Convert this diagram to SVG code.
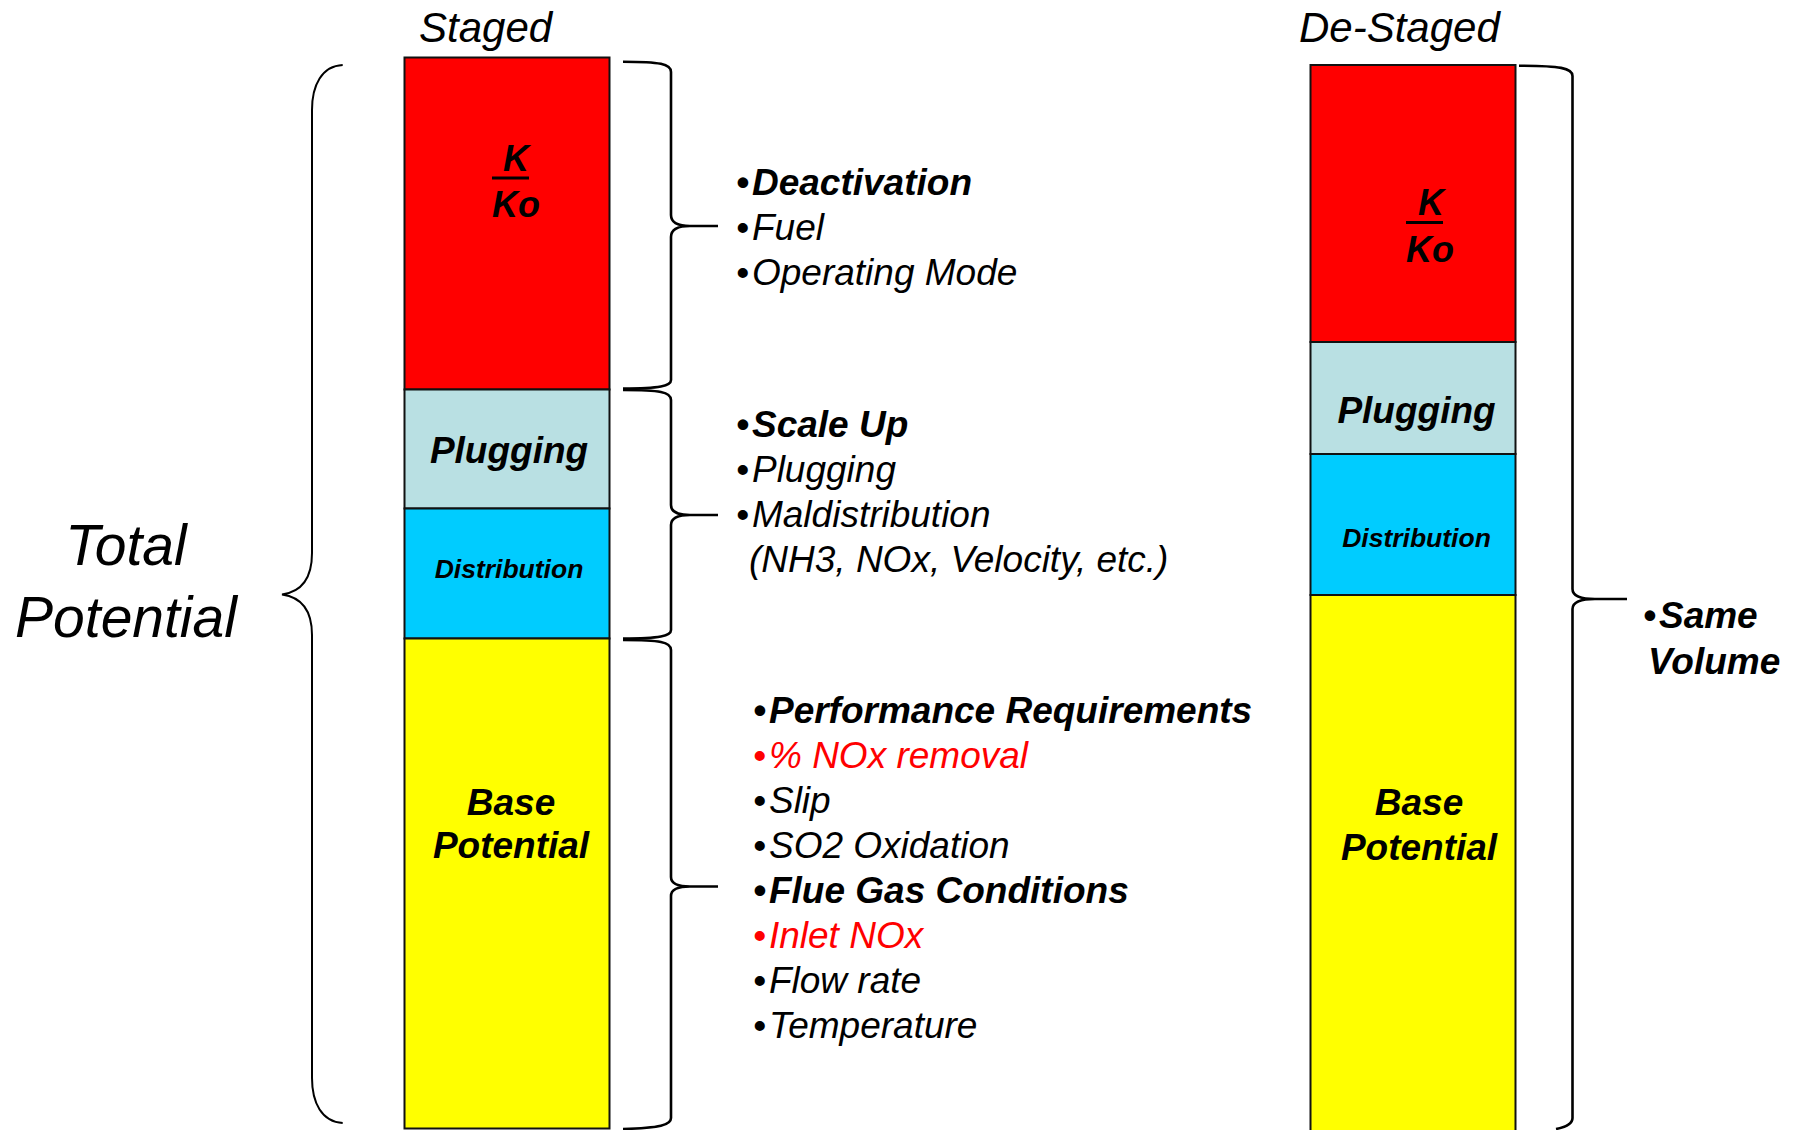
<svg xmlns="http://www.w3.org/2000/svg" width="1797" height="1130" viewBox="0 0 1797 1130">
<style>
text{font-family:"Liberation Sans",Arial,sans-serif;font-style:italic;fill:#000}
.b{font-weight:bold}
.hd{font-size:42px}
.big{font-size:57px}
.lbl{font-size:37px;font-weight:bold;text-anchor:middle}
.sm{font-size:26.5px;font-weight:bold;text-anchor:middle}
.kk{font-size:36px;font-weight:bold}
.it{font-size:37px}
.red{fill:#ff0000}
.box{stroke:#111;stroke-width:2}
.brace{fill:none;stroke:#000;stroke-width:2.6}
.thin{stroke-width:2}
.frac{stroke:#000;stroke-width:3}
</style>
<rect width="1797" height="1130" fill="#fff"/>

<text class="hd" x="419" y="42">Staged</text>
<text class="hd" x="1299" y="42">De-Staged</text>
<g id="total-label">
<text class="big" x="126" y="565" text-anchor="middle">Total</text>
<text class="big" x="126" y="637" text-anchor="middle">Potential</text>
</g>

<g id="staged-kko">
<rect class="box" x="404.5" y="57.5" width="205" height="332" fill="#ff0000"/>
<text class="kk" x="503" y="170.5">K</text>
<line class="frac" x1="492" y1="178" x2="529" y2="178"/>
<text class="kk" x="492" y="216.5">Ko</text>
</g>
<g id="staged-plugging">
<rect class="box" x="404.5" y="389.5" width="205" height="119" fill="#b9e0e3"/>
<text class="lbl" x="509" y="463">Plugging</text>
</g>
<g id="staged-distribution">
<rect class="box" x="404.5" y="508.5" width="205" height="130" fill="#00ccff"/>
<text class="sm" x="509" y="578">Distribution</text>
</g>
<g id="staged-base">
<rect class="box" x="404.5" y="638.5" width="205" height="490" fill="#ffff00"/>
<text class="lbl" x="511" y="815">Base</text>
<text class="lbl" x="511" y="858">Potential</text>
</g>

<g id="destaged-kko">
<rect class="box" x="1310.5" y="65" width="205" height="277" fill="#ff0000"/>
<text class="kk" x="1418" y="215">K</text>
<line class="frac" x1="1406" y1="222.5" x2="1443" y2="222.5"/>
<text class="kk" x="1406" y="261.5">Ko</text>
</g>
<g id="destaged-plugging">
<rect class="box" x="1310.5" y="342" width="205" height="112" fill="#b9e0e3"/>
<text class="lbl" x="1416.5" y="422.5">Plugging</text>
</g>
<g id="destaged-distribution">
<rect class="box" x="1310.5" y="454" width="205" height="141" fill="#00ccff"/>
<text class="sm" x="1416.5" y="547">Distribution</text>
</g>
<g id="destaged-base">
<rect class="box" x="1310.5" y="595" width="205" height="540" fill="#ffff00"/>
<text class="lbl" x="1419" y="815">Base</text>
<text class="lbl" x="1419" y="860">Potential</text>
</g>

<g id="connectors">
<path class="brace thin" d="M342.7 65 C322 66 312 85 312 110 L312 553 C312 580 300 592 282 594.5 C300 597 312 608 312 635 L312 1078 C312 1103 322 1122 342.7 1123"/>
<path class="brace" d="M623 61.7 C660 61.7 671 64 671 72 L671 215 C671 222 676 226 690 226 L718 226 M690 226 C676 226 671 230 671 237 L671 380 C671 386 660 388.5 623 388.5"/>
<path class="brace" d="M623 390 C660 390 671 392 671 400 L671 505 C671 511 676 515 690 515 L718 515 M690 515 C676 515 671 519 671 525 L671 630 C671 636 660 638.5 623 638.5"/>
<path class="brace" d="M623 640 C660 640 671 642 671 650 L671 877 C671 883 676 886.5 690 886.5 L718 886.5 M690 886.5 C676 886.5 671 890 671 896 L671 1118 C671 1125 660 1128 623 1129"/>
<path class="brace" d="M1519 65.7 C1560 65.7 1572.5 68 1572.5 76 L1572.5 589 C1572.5 595 1578 599 1595 599 L1627 599 M1595 599 C1578 599 1572.5 603 1572.5 609 L1572.5 1118 C1572.5 1124 1566 1127 1556 1129"/>
</g>

<g id="notes-deactivation">
<text class="it b" x="736" y="195">•<tspan dx="3">Deactivation</tspan></text>
<text class="it" x="736" y="240">•<tspan dx="3">Fuel</tspan></text>
<text class="it" x="736" y="285">•<tspan dx="3">Operating Mode</tspan></text>
</g>
<g id="notes-scaleup">
<text class="it b" x="736" y="437">•<tspan dx="3">Scale Up</tspan></text>
<text class="it" x="736" y="482">•<tspan dx="3">Plugging</tspan></text>
<text class="it" x="736" y="527">•<tspan dx="3">Maldistribution</tspan></text>
<text class="it" x="749" y="572">(NH3, NOx, Velocity, etc.)</text>
</g>
<g id="notes-performance">
<text class="it b" x="753" y="723">•<tspan dx="3">Performance Requirements</tspan></text>
<text class="it red" x="753" y="768">•<tspan dx="3">% NOx removal</tspan></text>
<text class="it" x="753" y="813">•<tspan dx="3">Slip</tspan></text>
<text class="it" x="753" y="858">•<tspan dx="3">SO2 Oxidation</tspan></text>
<text class="it b" x="753" y="903">•<tspan dx="3">Flue Gas Conditions</tspan></text>
<text class="it red" x="753" y="948">•<tspan dx="3">Inlet NOx</tspan></text>
<text class="it" x="753" y="993">•<tspan dx="3">Flow rate</tspan></text>
<text class="it" x="753" y="1038">•<tspan dx="3">Temperature</tspan></text>
</g>
<g id="notes-same">
<text class="it b" x="1643" y="628">•<tspan dx="3">Same</tspan></text>
<text class="it b" x="1648" y="674">Volume</text>
</g>
</svg>
